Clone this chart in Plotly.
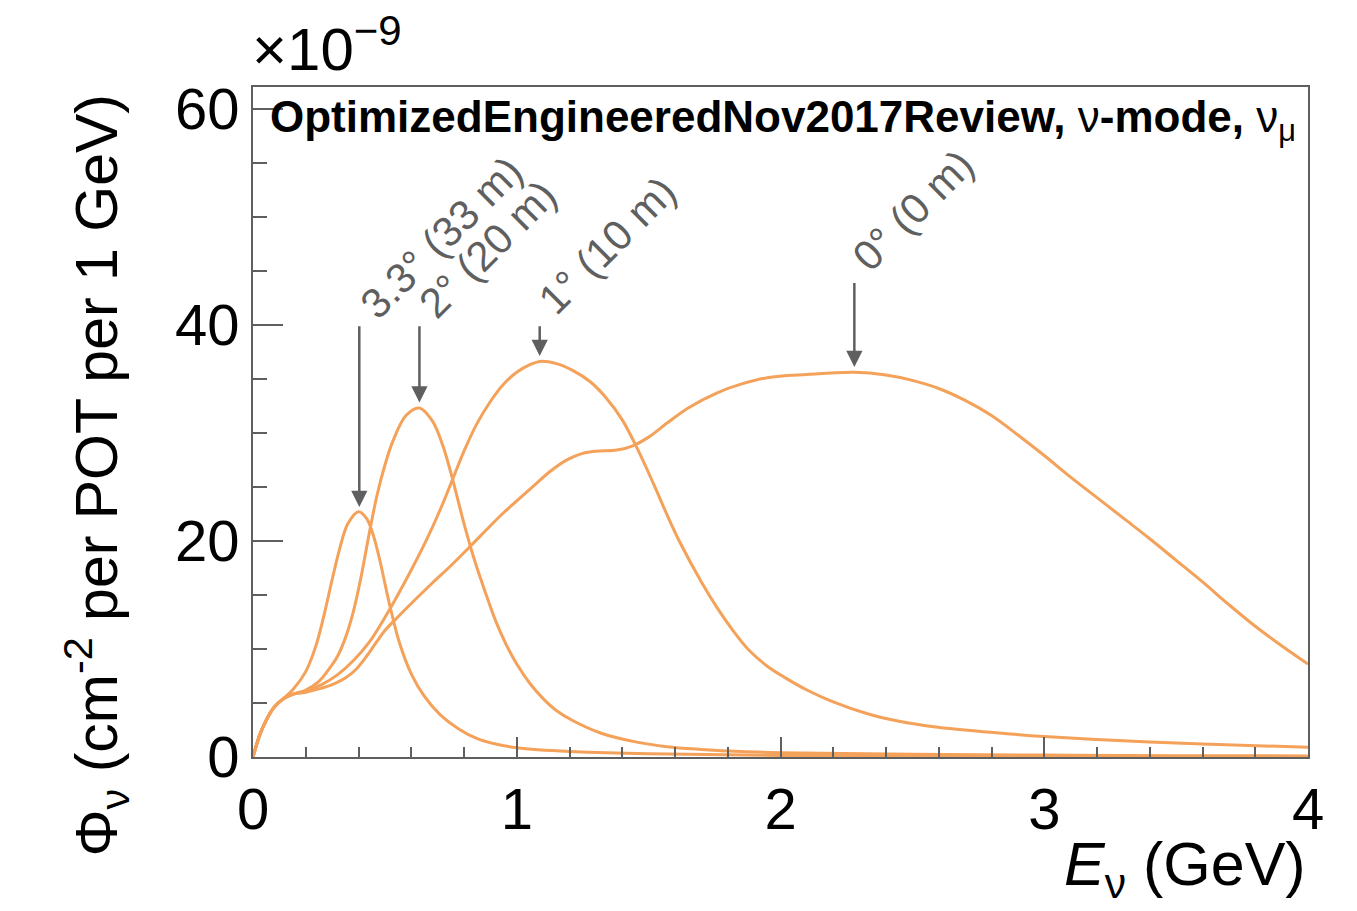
import numpy as np
import plotly.graph_objects as go

FONT = "Liberation Sans"
ORANGE = "#F4A15A"
GREY = "#5f5f5f"

# Muon-neutrino flux (x1e-9 cm^-2 per POT per GeV) vs neutrino energy (GeV)
# for several off-axis positions of the near detector.
e_33 = [0.0, 0.025, 0.05, 0.08, 0.11, 0.15, 0.2, 0.24, 0.27, 0.3, 0.33, 0.36, 0.40,
        0.43, 0.455, 0.48, 0.517, 0.555, 0.6, 0.65, 0.71, 0.78, 0.85, 0.92, 1.0,
        1.2, 1.5, 2.0, 3.0, 4.0]
phi_33 = [0.0, 2.0, 3.4, 4.6, 5.3, 6.2, 7.9, 10.4, 13.2, 16.4, 19.4, 21.6, 22.7,
          22.1, 20.6, 18.3, 14.2, 10.6, 7.7, 5.6, 3.9, 2.6, 1.7, 1.2, 0.85,
          0.5, 0.3, 0.15, 0.07, 0.04]

e_20 = [0.0, 0.025, 0.05, 0.08, 0.11, 0.15, 0.2, 0.25, 0.29, 0.32, 0.35, 0.38, 0.41,
        0.44, 0.47, 0.5, 0.53, 0.58, 0.631, 0.68, 0.72, 0.76, 0.8, 0.84, 0.88,
        0.92, 0.96, 1.0, 1.05, 1.1, 1.15, 1.21, 1.32, 1.45, 1.57, 1.7, 1.85, 2.0,
        2.5, 3.0, 3.5, 4.0]
phi_20 = [0.0, 2.0, 3.4, 4.6, 5.3, 5.8, 6.2, 7.0, 8.2, 9.3, 11.0, 13.4, 16.7,
          20.6, 24.2, 27.0, 29.2, 31.6, 32.3, 31.1, 28.8, 25.4, 21.6, 18.2, 15.3,
          12.6, 10.4, 8.6, 6.8, 5.4, 4.3, 3.4, 2.2, 1.4, 0.95, 0.7, 0.5, 0.4,
          0.25, 0.18, 0.12, 0.1]

e_10 = [0.0, 0.025, 0.05, 0.08, 0.11, 0.15, 0.2, 0.26, 0.32, 0.38, 0.44, 0.49, 0.54,
        0.6, 0.66, 0.71, 0.757, 0.8, 0.848, 0.9, 0.95, 1.0, 1.05, 1.087, 1.15,
        1.21, 1.28, 1.34, 1.40, 1.46, 1.52, 1.57, 1.62, 1.70, 1.76, 1.82, 1.88,
        1.95, 2.02, 2.1, 2.2, 2.33, 2.45, 2.58, 2.84, 3.0, 3.3, 3.6, 4.0]
phi_10 = [0.0, 2.0, 3.4, 4.6, 5.3, 5.8, 6.1, 6.7, 7.6, 8.9, 10.6, 12.5, 14.6,
          17.3, 20.2, 22.9, 25.7, 28.3, 30.8, 32.9, 34.5, 35.6, 36.3, 36.6, 36.4,
          35.8, 34.7, 33.2, 31.2, 28.4, 25.2, 22.4, 19.8, 16.2, 13.8, 11.7, 9.9,
          8.4, 7.3, 6.2, 5.1, 4.0, 3.3, 2.8, 2.2, 1.9, 1.5, 1.2, 0.9]

e_0 = [0.0, 0.025, 0.05, 0.08, 0.11, 0.15, 0.2, 0.25, 0.3, 0.35, 0.39, 0.43, 0.47,
       0.5, 0.555, 0.6, 0.68, 0.75, 0.82, 0.9, 0.95, 1.0, 1.06, 1.125, 1.19, 1.25,
       1.3, 1.38, 1.44, 1.5, 1.57, 1.65, 1.76, 1.85, 1.95, 2.1, 2.28, 2.4, 2.5,
       2.6, 2.7, 2.8, 2.9, 3.0, 3.1, 3.2, 3.3, 3.4, 3.5, 3.6, 3.7, 3.8, 3.9, 4.0]
phi_0 = [0.0, 2.0, 3.4, 4.6, 5.3, 5.8, 6.0, 6.3, 6.7, 7.3, 8.1, 9.3, 10.7,
         11.7, 13.1, 14.2, 16.1, 17.7, 19.4, 21.4, 22.6, 23.7, 25.0, 26.4, 27.5, 28.1,
         28.3, 28.4, 28.8, 29.6, 30.9, 32.3, 33.7, 34.5, 35.1, 35.4, 35.6, 35.35, 34.85,
         34.1, 33.0, 31.6, 29.8, 27.9, 25.9, 24.0, 22.1, 20.2, 18.2, 16.2, 14.1, 12.1,
         10.3, 8.6]

series = [(e_33, phi_33), (e_20, phi_20), (e_10, phi_10), (e_0, phi_0)]

# Off-axis labels, arrow positions and arrow tail heights
offaxis_labels = ["3.3° (33 m)", "2° (20 m)", "1° (10 m)", "0° (0 m)"]
arrow_e = [0.403, 0.631, 1.087, 2.28]
arrow_top = [40.0, 40.0, 40.0, 44.0]
label_e = [0.713, 0.888, 1.343, 2.501]
label_phi = [48.1, 47.0, 47.3, 50.6]

fig = go.Figure()
for e, phi in series:
    fig.add_trace(go.Scatter(
        x=e, y=phi, mode="lines",
        line=dict(color=ORANGE, width=3, shape="spline", smoothing=1.0),
        showlegend=False, hoverinfo="skip",
    ))

annotations = []
for (e, phi), xa, top, lab, lx, ly in zip(series, arrow_e, arrow_top,
                                          offaxis_labels, label_e, label_phi):
    tip = float(np.interp(xa, e, phi)) + 0.5
    annotations.append(dict(
        x=xa, y=tip, xref="x", yref="y", ax=xa, ay=top, axref="x", ayref="y",
        text="", showarrow=True, arrowhead=2, arrowsize=1.3, arrowwidth=2.5,
        arrowcolor=GREY, standoff=0,
    ))
    annotations.append(dict(
        x=lx, y=ly, xref="x", yref="y", text=lab, showarrow=False,
        textangle=-45, xanchor="center", yanchor="middle",
        font=dict(family=FONT, size=42, color=GREY),
    ))

annotations += [
    dict(x=0.0142, y=0.951, xref="paper", yref="paper", xanchor="left", yanchor="middle",
         showarrow=False,
         text="<b>OptimizedEngineeredNov2017Review, </b>ν<b>-mode, </b>ν<sub>μ</sub>",
         font=dict(family=FONT, size=44, color="black")),
    dict(x=-0.003, y=1.063, xref="paper", yref="paper", xanchor="left", yanchor="middle",
         showarrow=False, text="×10<sup>−9</sup>",
         font=dict(family=FONT, size=60, color="black")),
    dict(x=1.0, y=-0.166, xref="paper", yref="paper", xanchor="right", yanchor="middle",
         showarrow=False, text="<i>E</i><sub>ν</sub> (GeV)",
         font=dict(family=FONT, size=61, color="black")),
    dict(x=-0.148, y=0.42, xref="paper", yref="paper", xanchor="center", yanchor="middle",
         showarrow=False, textangle=-90,
         text="Φ<sub>ν</sub> (cm<sup>-2</sup> per POT per 1 GeV)",
         font=dict(family=FONT, size=59, color="black")),
]

axis_common = dict(
    showline=True, mirror=True, linecolor=GREY, linewidth=2,
    ticks="inside", tickcolor=GREY, tickwidth=2,
    showgrid=False, zeroline=False,
    tickfont=dict(family=FONT, size=58, color="black"),
)

fig.update_layout(
    width=1357, height=911,
    margin=dict(l=253, r=49, t=87, b=154),
    paper_bgcolor="white", plot_bgcolor="white",
    xaxis=dict(range=[0, 4], dtick=1, tick0=0, ticklen=20,
               minor=dict(ticks="inside", dtick=0.2, ticklen=10, tickcolor=GREY, tickwidth=2),
               **axis_common),
    yaxis=dict(range=[0, 62], dtick=20, tick0=0, ticklen=30,
               minor=dict(ticks="inside", dtick=5, ticklen=14, tickcolor=GREY, tickwidth=2),
               **axis_common),
    annotations=annotations,
)

fig.write_html("out.html")
